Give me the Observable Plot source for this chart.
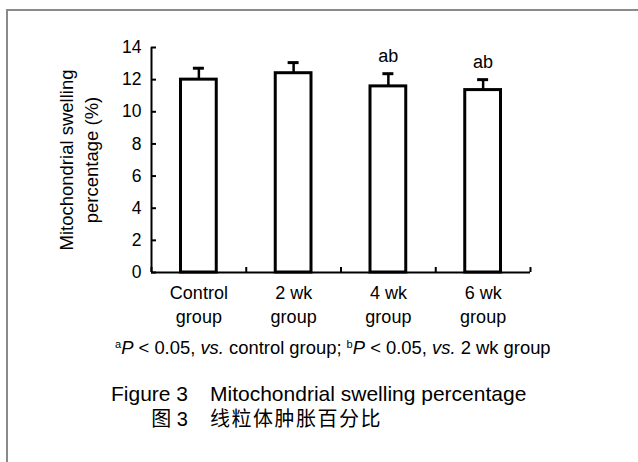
<!DOCTYPE html>
<html>
<head>
<meta charset="utf-8">
<script src="https://cdn.jsdelivr.net/npm/d3@7"></script>
<script src="https://cdn.jsdelivr.net/npm/@observablehq/plot@0.6"></script>
<style>
  html, body { margin: 0; padding: 0; background: #fff; }
  #wrap { position: relative; width: 638px; height: 462px; overflow: hidden; font-family: "Liberation Sans", Arial, sans-serif; color: #000; }
  #frame { position: absolute; left: 6px; top: 9px; width: 700px; height: 600px; border-left: 2px solid #8a8a8a; border-top: 2px solid #8a8a8a; }
  #chart { position: absolute; left: 0; top: 0; }
  .t { position: absolute; line-height: 1; white-space: nowrap; }
  .foot { font-size: 18.4px; }
  .foot sup { font-size: 0.6em; vertical-align: 0.55em; line-height: 0; }
  .cap { font-size: 21px; }
  .cn { font-size: 20px; font-family: "Liberation Sans", "Noto Sans CJK SC", sans-serif; letter-spacing: 1.5px; }
</style>
</head>
<body>
<div id="wrap">
  <div id="frame"></div>
  <div id="chart"></div>
  <div class="t foot" style="left:115px; top:339px;"><sup>a</sup><i>P</i> &lt; 0.05, <i>vs.</i> control group; <sup>b</sup><i>P</i> &lt; 0.05, <i>vs.</i> 2 wk group</div>
  <div class="t cap" style="left:0; width:188px; text-align:right; top:383px;">Figure 3</div>
  <div class="t cap" style="left:210px; top:383px;">Mitochondrial swelling percentage</div>
  <div class="t cn" style="left:0; width:188px; text-align:right; top:409px; letter-spacing:0;">图 3</div>
  <div class="t cn" style="left:210px; top:409px;">线粒体肿胀百分比</div>
</div>
<script>
const categories = ["Control group", "2 wk group", "4 wk group", "6 wk group"];
const tickLabels = ["Control\ngroup", "2 wk\ngroup", "4 wk\ngroup", "6 wk\ngroup"];
const means = [12.0, 12.4, 11.58, 11.35];
const sds = [0.71, 0.66, 0.79, 0.65];
const sigLabels = ["", "", "ab", "ab"];
const yTicks = [0, 2, 4, 6, 8, 10, 12, 14];
const yLabel = "Mitochondrial swelling\npercentage (%)";

const data = categories.map((c, i) => ({i, c, mean: means[i], sd: sds[i], sig: sigLabels[i]}));
const catTicks = categories.map((c, i) => i + 0.5);
const bandEdges = d3.range(categories.length + 1);

const H = 335;
const plot = Plot.plot({
  width: 638,
  height: H,
  marginLeft: 151,
  marginRight: 108,
  marginTop: 47,
  marginBottom: H - 272,
  style: {fontFamily: '"Liberation Sans", Arial, sans-serif', background: "transparent", color: "#000"},
  x: {domain: [0, categories.length], axis: null},
  y: {domain: [0, 14], axis: null},
  marks: [
    // error bars
    Plot.ruleX(data, {x: d => d.i + 0.5, y1: "mean", y2: d => d.mean + d.sd, stroke: "#000", strokeWidth: 2.5}),
    Plot.ruleY(data, {y: d => d.mean + d.sd, x1: d => d.i + 0.5, x2: d => d.i + 0.5, insetLeft: -5.5, insetRight: -5.5, stroke: "#000", strokeWidth: 3}),
    // bars
    Plot.rectY(data, {x1: "i", x2: d => d.i + 1, y: "mean", insetLeft: 29.5, insetRight: 29.5, fill: "#fff", stroke: "#000", strokeWidth: 3}),
    // significance labels
    Plot.text(data.filter(d => d.sig), {x: d => d.i + 0.5, y: d => d.mean + d.sd, text: "sig", dy: -17, fontSize: 18}),
    // axes lines
    Plot.ruleX([0], {stroke: "#000", strokeWidth: 2}),
    Plot.ruleY([0], {stroke: "#000", strokeWidth: 2}),
    // inward y ticks
    Plot.axisY({ticks: yTicks, tickSize: 5, dx: 5, tickFormat: () => "", strokeWidth: 2, label: null}),
    Plot.axisY({ticks: yTicks, tickSize: 0, tickPadding: 10, fontSize: 17.5, label: null}),
    // inward x ticks at band edges
    Plot.axisX({ticks: bandEdges, tickSize: 5, dy: -5, tickFormat: () => "", strokeWidth: 2, label: null}),
    Plot.axisX({ticks: catTicks, tickSize: 0, tickPadding: 10, tickFormat: (v) => tickLabels[Math.floor(v)], fontSize: 18, lineHeight: 1.3, label: null}),
    // y-axis title
    Plot.text([yLabel], {frameAnchor: "left", textAnchor: "middle", text: d => d, rotate: -90, dx: -74, fontSize: 18.5, lineHeight: 1.35})
  ]
});
document.getElementById("chart").appendChild(plot);
</script>
</body>
</html>
